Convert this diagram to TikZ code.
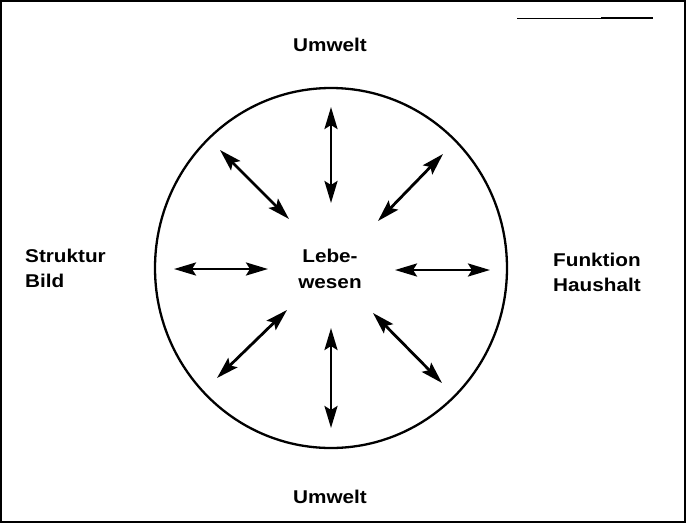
\documentclass[tikz,border=0pt]{standalone}
\usepackage{fontspec}
\setmainfont[FakeStretch=1.12]{Liberation Sans}
\usetikzlibrary{arrows.meta,shapes.geometric}
\begin{document}
\begin{tikzpicture}[x=1pt,y=-1pt,
  dbl/.style={line width=2.8pt,{Stealth[length=22pt,width=13pt,inset=4pt]}-{Stealth[length=22pt,width=13pt,inset=4pt]}},
  lbl/.style={font=\bfseries\fontsize{18.5}{25}\selectfont, inner sep=0pt, align=left},
  clbl/.style={font=\bfseries\fontsize{18.5}{26}\selectfont, inner sep=0pt, align=center}]
\useasboundingbox (0,0) rectangle (686,523);
\draw[line width=2pt] (1,1) rectangle (685,522);
% top-right rule
\coordinate (r1) at (517,18);
\coordinate (r2) at (601,18);
\coordinate (r3) at (653,18);
\draw[line width=1pt] (r1) -- (r2);
\draw[line width=2.5pt] (r2) -- (r3);
% circle
\node[draw, line width=2.3pt, ellipse, minimum width=352pt, minimum height=360pt, inner sep=0pt] (c) at (331,268) {};
% labels
\node[clbl] (top) at (330,45) {Umwelt};
\node[clbl] (bot) at (330,497) {Umwelt};
\node[lbl, anchor=west] (left) at (25,268) {Struktur\\Bild};
\node[lbl, anchor=west] (right) at (553,272) {Funktion\\Haushalt};
\node[clbl] (mid) at (330,269) {Lebe-\\wesen};
% arrow end points
\coordinate (t1) at (331,107); \coordinate (t2) at (331,203);
\coordinate (b1) at (331,328); \coordinate (b2) at (331,428);
\coordinate (l1) at (174,269); \coordinate (l2) at (268,269);
\coordinate (h1) at (395,270); \coordinate (h2) at (490,270);
\coordinate (ul1) at (220,150); \coordinate (ul2) at (289,219);
\coordinate (ur1) at (443,154); \coordinate (ur2) at (378,221);
\coordinate (ll1) at (287,310); \coordinate (ll2) at (217,378);
\coordinate (lr1) at (373,313); \coordinate (lr2) at (442,383);
\draw[dbl] (t1) -- (t2);
\draw[dbl] (b1) -- (b2);
\draw[dbl] (l1) -- (l2);
\draw[dbl] (h1) -- (h2);
\draw[dbl] (ul1) -- (ul2);
\draw[dbl] (ur1) -- (ur2);
\draw[dbl] (ll1) -- (ll2);
\draw[dbl] (lr1) -- (lr2);
\end{tikzpicture}
\end{document}
